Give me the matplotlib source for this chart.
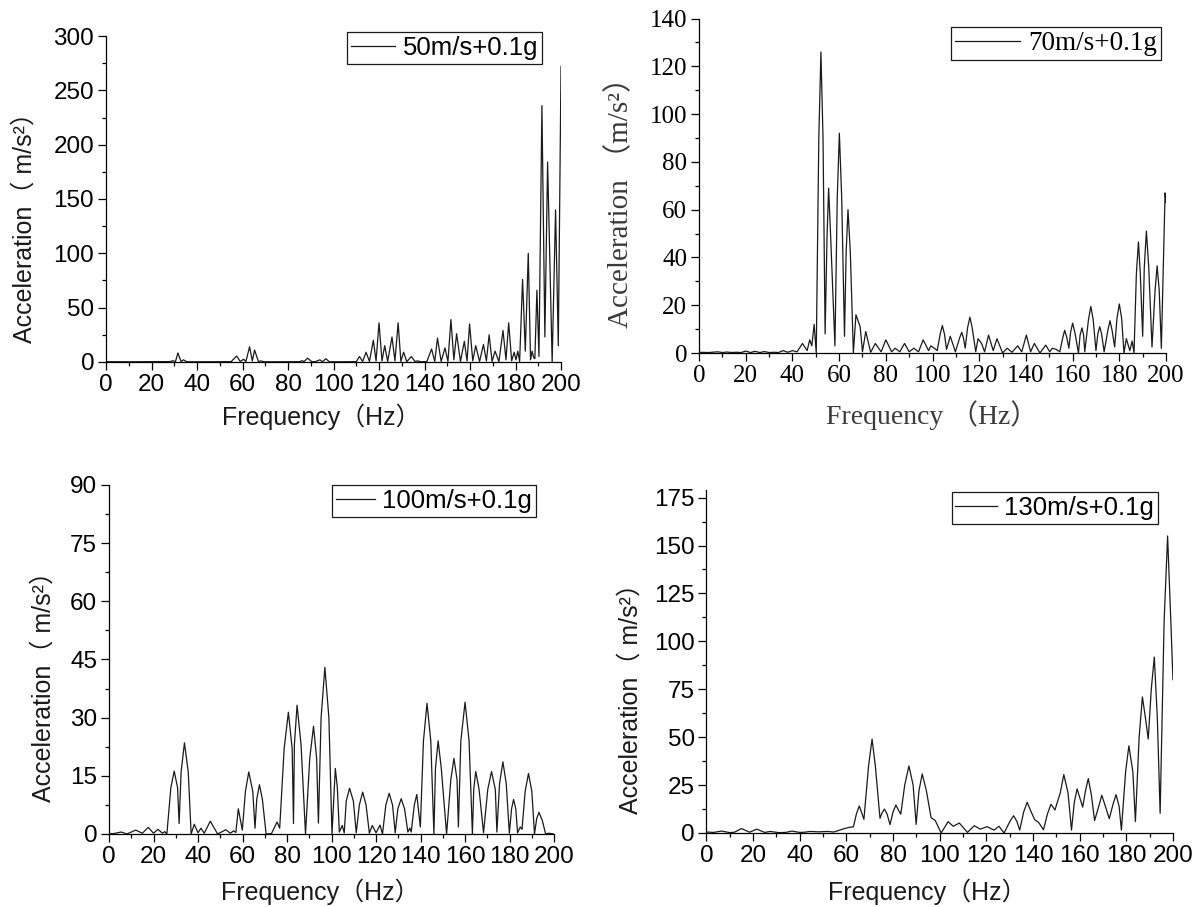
import matplotlib
matplotlib.use("Agg")
import matplotlib.pyplot as plt
from matplotlib.ticker import MultipleLocator

# spectrum peaks, troughs and lobe shoulders, 50 m/s + 0.1g
f50 = [0, 10, 20, 28, 29.5, 30.5, 31.6, 33, 34, 35.5, 40, 55, 57.4, 59, 60.5, 61.5, 63.1, 64.3,
       65.3, 67, 68, 69.5, 75, 85, 86.3, 87, 88.6, 90.5, 92, 94, 95.2, 96.6, 98.2, 105, 110, 111.4,
       112.8, 114.3, 115.8, 117.5, 118.7, 120, 121.3, 122.5, 123.8, 125.7, 127, 128.4, 129.6, 130.8,
       132.2, 134.2, 135.8, 137, 138.5, 141, 143.1, 144.5, 145.7, 147.3, 149, 150.3, 151.6, 152.9,
       154.1, 155.8, 157.5, 158.7, 159.8, 161.2, 162.5, 164.2, 165.9, 167.2, 168.4, 169.7, 171,
       172.7, 174.5, 175.8, 177, 178.3, 179.4, 180.2, 181, 181.8, 183.1, 184.3, 185.6, 186.6, 187.3,
       188.0, 188.5, 189.4, 190.3, 191.6, 192.9, 194.1, 196.1, 197.6, 198.8, 200]
a50 = [0.3, 0.2, 0.3, 0.3, 1.2, 0.2, 8.3, 0.3, 2, 0.2, 0.2, 0.3, 5.5, 0.5, 2.5, 0.5, 14, 1,
       11, 0.3, 1, 0.2, 0.2, 0.3, 1.2, 0.3, 3.5, 0.2, 0.3, 2, 0.2, 3, 0.2, 0.2, 0.3, 5,
       0.5, 9, 0.5, 20, 1, 36, 1, 15, 0.5, 23, 1, 36, 0.5, 9,
       0.3, 5, 0.5, 1, 0.2, 0.3, 12, 0.5, 22, 0.5, 13, 0.5, 39, 2,
       26, 0.5, 19, 1, 35, 1, 15, 0.5, 16, 1, 25, 0.5, 10,
       0.3, 29, 2, 36, 1, 9, 2, 10, 0.5, 76, 10, 100, 2, 10,
       4, 3, 66, 5, 236, 23, 184, 0, 140, 15, 272]

# 70 m/s + 0.1g
f70 = [0, 4, 8, 10, 12, 14, 16, 18, 20, 22, 24, 26, 28, 30, 32, 34, 36, 38, 40, 42, 44.3, 46.3,
       47.4, 48.3, 49.3, 50.2, 51.3, 52.2, 53.1, 54, 54.8, 55.5, 56.4, 58.2, 59.2, 60.1, 61.1, 62.3,
       63, 63.8, 64.8, 66.1, 67.2, 69, 70, 71.4,
       73.5, 75.5, 78, 80, 82.5, 84, 86, 88, 90, 92, 94, 96, 98.3, 99.3, 101, 102, 103.3, 104.2, 105.1, 106,
       107.6, 109.8, 111.5, 112.5, 113.3, 114, 115, 116, 117, 118.5, 119.5, 121, 122.3, 124, 126, 127.6,
       130, 132, 134, 136.5, 138.2, 140.2, 142, 143.6, 146, 148.5, 150.2, 151.3, 153, 154.5, 155.8,
       156.6, 157.5, 158.4, 159.1, 160, 161, 162.5, 163.2, 164, 164.7, 165.2, 166.8, 167.8, 168.8, 170,
       170.8, 171.6, 172.4, 173.5, 175.1, 176, 176.9, 178, 179, 180, 181, 182, 183, 184.5, 185.5, 186.3,
       187.3, 188.2, 189, 190, 190.7, 191.6, 192.6, 194, 195.3, 196.2, 197.1, 198, 199.6, 200]
a70 = [0.3, 0.2, 0.5, 0.2, 0.4, 0.2, 0.3, 0.2, 0.8, 0.2, 0.7, 0.2, 0.6, 0.2, 0.3, 0.2, 1, 0.3, 1, 0.5, 4, 1,
       5.5, 3, 12, 0, 90, 126, 90, 8, 48, 69, 48, 3, 65, 92, 65, 7,
       42, 60, 42, 0, 16, 11, 0.5, 9,
       0.3, 4, 0.5, 5.5, 0.5, 2, 0.5, 4, 0.5, 2, 0.5, 5.5, 1, 3, 1.8, 1, 8, 11.5, 8, 1.5,
       7, 0.5, 6, 8.7, 6, 2, 10.5, 15, 10.5, 0.5, 6, 4, 0.5, 7.5, 1, 6,
       0, 2, 0.3, 3, 0.5, 7.5, 0.5, 4, 0, 3.3, 0.5, 2, 1.5, 0.5, 6.5,
       9.5, 6.5, 2, 8.5, 12.5, 8.5, 0, 7.5, 10.5, 7.5, 0.5, 14, 19.5, 14, 1,
       8, 11, 8, 0.5, 9.5, 13.5, 9.5, 2.5, 14.5, 20.5, 14.5, 0, 6, 1, 5, 0,
       33, 46.5, 33, 7, 36, 51, 36, 2.5, 26, 36.5, 26, 2, 67, 63]

# 100 m/s + 0.1g
f100 = [0, 2, 5.5, 8, 12, 15, 17.6, 20, 22, 24, 25, 26,
        27.8, 29.3, 30.8, 31.5, 32.4, 33.9, 35.6, 36.9,
        38.3, 40, 41.3, 42.8, 45.5, 48.8, 52.5, 54.5, 56, 57,
        58.1, 59.9, 61.3, 62.8, 64.6, 65.6, 66.4, 67.6, 68.9, 70.6, 73,
        75.5, 76.7, 78.7, 80.6, 82.3, 82.9, 83.3, 84.5, 86.3, 88.3,
        90.2, 91.9, 93.3, 94.1, 95.3, 97, 98.8, 100.2,
        101.7, 102.6, 103.5, 104.8, 105.7, 106.6, 108.1, 109.8, 111.1,
        112.5, 114, 115.5, 117, 118.3, 120, 121.8, 122.9,
        124.4, 125.9, 127.4, 128.6, 129.8, 131.3, 132.8, 134.3, 135.2, 135.8,
        137.2, 138.3, 139.9, 141.3, 142.9, 144.6, 146,
        146.7, 147.9, 149.3, 151.7,
        153.6, 155, 156.4, 157, 158.1, 160, 161.8, 163.3,
        163.9, 164.8, 166.3, 168.3, 170.2, 171.9, 173.6, 174.3,
        175.5, 177, 178.5, 179.9, 180.9, 181.8, 182.8, 183.6, 184.8, 185.6,
        187, 188.5, 190, 191.2, 192.2, 193.2, 194.7, 196.2, 197.5, 200]
a100 = [0.1, 0.1, 0.5, 0, 1, 0.2, 1.7, 0.2, 1.2, 0.2, 0.6, 0,
        12, 16.2, 12, 2.7, 16, 23.5, 16, 0,
        2.5, 0.3, 1.5, 0.2, 3.3, 0, 1.1, 0.2, 0.8, 0.4,
        6.5, 1, 11, 16, 11, 1.5, 9, 12.7, 9, 0, 0.1,
        3.1, 1.5, 22, 31.4, 22, 2.7, 23, 33.2, 23, 0,
        19.5, 27.8, 19.5, 2.8, 30, 43, 30, 0,
        16.9, 12, 0.5, 2.2, 0.3, 8.5, 11.8, 8.5, 0.3,
        7.5, 10.8, 7.5, 0.2, 2.2, 0.3, 2.3, 0,
        7.5, 10.5, 7.5, 0.3, 6.5, 9.1, 6.5, 0.5, 1.5, 0.5,
        7.5, 10.2, 1.8, 24, 33.7, 24, 0,
        17, 24, 17, 0,
        14, 19.5, 14, 1.8, 24, 34, 24, 0,
        11.5, 16.1, 11.5, 0.3, 11.5, 16.1, 11.5, 0.5,
        13, 18.6, 13, 0.2, 6.5, 8.9, 6.5, 0.3, 1.8, 1.2,
        11, 15.6, 11, 0, 4, 5.6, 3.5, 0, 0.2, 0]

# 130 m/s + 0.1g
f130 = [0, 3, 6.5, 10, 12, 15, 18.5, 21.5, 25, 27.3, 31, 34, 36.6, 40, 42, 44.5, 48, 52, 54.6,
        58.9, 61.4, 63,
        64.3, 65.5, 66.7, 67.5, 69.5, 71, 72.4, 74.4, 75.3, 76.3, 77.4, 78.7, 80, 81.2, 82.3, 83.3,
        85, 86.8, 88.6, 89.9, 91.1, 92.5, 94.3, 96.3, 98.1, 100.6,
        103.6, 105.8, 108.4, 111.9, 114.8, 117.4, 120.3, 123.3, 125.4, 127.6,
        130.3, 131.7, 133.1, 134.3, 136, 137.5, 139.2, 140.7, 142.4, 144.5, 146.2, 147.7, 149.4,
        151.7, 153.2, 155, 156.5, 157.7, 158.9, 161.3, 162.5, 163.7, 165, 166.4,
        168.2, 169.5, 171, 172.7, 174.3, 175.6, 176.9, 177.9,
        179.7, 181.1, 182.8, 183.9, 185.5, 186.9, 188.2, 189.4, 190.7, 192, 193.3, 194.5,
        196.2, 197.7, 199.1, 200]
a130 = [0.5, 0.3, 1, 0.2, 0.4, 2.3, 0.4, 2, 0.3, 0.8, 0.2, 0.3, 1, 0.3, 0.4, 0.8, 0.6, 0.8, 0.5,
        2.2, 3, 3.2,
        10, 14.1, 10, 7.1, 35, 49, 35, 7.7, 10.5, 12.5, 10, 4.4, 11, 14.6, 12, 9.8,
        25, 35, 25, 4.5, 22, 30.8, 22, 8, 6.5, 0,
        5.9, 3.5, 5.2, 0.3, 3.8, 2, 3.3, 1.5, 3.5, 0,
        6.5, 9, 6, 1.5, 11, 16, 11, 7, 5.5, 1.7, 10, 15, 12,
        21, 30.5, 21, 1.5, 16, 23, 13.5, 22, 28.4, 20, 6.5,
        14, 19.7, 14, 7.5, 15, 20, 14, 1.5,
        32, 45.5, 32, 6, 50, 71, 60, 49, 75, 91.8, 60, 10.3,
        110, 155, 110, 80]

sans = ["Liberation Sans", "Noto Sans CJK SC"]
serif = ["Liberation Serif", "Noto Sans CJK SC"]

fig = plt.figure(figsize=(11.98, 9.07), dpi=100)


def setup(ax, fonts, ymax, ymajor, tsize):
    for s in ["top", "right"]:
        ax.spines[s].set_visible(False)
    for s in ["left", "bottom"]:
        ax.spines[s].set_linewidth(0.9)
    ax.set_xlim(0, 200)
    ax.set_ylim(0, ymax)
    ax.xaxis.set_major_locator(MultipleLocator(20))
    ax.xaxis.set_minor_locator(MultipleLocator(10))
    ax.yaxis.set_major_locator(MultipleLocator(ymajor))
    ax.yaxis.set_minor_locator(MultipleLocator(ymajor / 2))
    ax.tick_params(which="major", direction="out", length=5.5, width=0.9, pad=3, labelsize=tsize)
    ax.tick_params(which="minor", direction="out", length=3, width=0.9)
    for lab in ax.get_xticklabels() + ax.get_yticklabels():
        lab.set_family(fonts)


panels = [
    # rect, x, y, legend label, ymax, major step
    ([0.0885, 0.6009, 0.3798, 0.3594], f50, a50, "50m/s+0.1g", 300, 50),
    ([0.5835, 0.6108, 0.3898, 0.3688], f70, a70, "70m/s+0.1g", 140, 20),
    ([0.0910, 0.0805, 0.3715, 0.3848], f100, a100, "100m/s+0.1g", 90, 15),
    ([0.5897, 0.0816, 0.3894, 0.3782], f130, a130, "130m/s+0.1g", 179, 25),
]

legend_pos = [(0.4524, 0.9647), (0.9691, 0.9702), (0.4474, 0.4653), (0.9666, 0.4576)]
handle_len = [1.7, 2.4, 1.5, 1.6]
ylab_pos = [(-0.178, 0.43), (-0.169, 0.47), (-0.146, 0.44), (-0.162, 0.41)]
xlab_pos = [(0.473, -0.169), (0.499, -0.185), (0.474, -0.166), (0.473, -0.172)]

for i, (rect, f, a, name, ymax, ymaj) in enumerate(panels):
    ax = fig.add_axes(rect)
    ax.plot(f, a, color="#1a1a1a", lw=0.9, label=name)
    if i == 1:
        fonts, tsize, lsize = serif, 18, 19.5
        ylab, xlab = "Acceleration （m/s²）", "Frequency （Hz）"
        lab_color, ysize, xsize = "#3a3a3a", 21, 20
    else:
        fonts, tsize, lsize = sans, 17.5, 18.5
        ylab, xlab = "Acceleration（ m/s²）", "Frequency（Hz）"
        lab_color, ysize, xsize = "#1a1a1a", 18, 18
    setup(ax, fonts, ymax, ymaj, tsize)
    if i == 3:
        ax.set_yticks([0, 25, 50, 75, 100, 125, 150, 175])

    ax.text(*ylab_pos[i], ylab, transform=ax.transAxes, rotation=90, ha="center", va="center",
            family=fonts, size=ysize, color=lab_color)
    ax.text(*xlab_pos[i], xlab, transform=ax.transAxes, ha="center", va="center",
            family=fonts, size=xsize, color=lab_color)

    leg = ax.legend(loc="upper right", bbox_to_anchor=legend_pos[i], bbox_transform=fig.transFigure,
                    handlelength=handle_len[i], handletextpad=0.3, borderpad=0.15, borderaxespad=0,
                    fancybox=False, framealpha=1, edgecolor="#1a1a1a",
                    prop={"family": fonts, "size": lsize})
    leg.get_frame().set_linewidth(0.9)

fig.savefig("out.png", dpi=100)
